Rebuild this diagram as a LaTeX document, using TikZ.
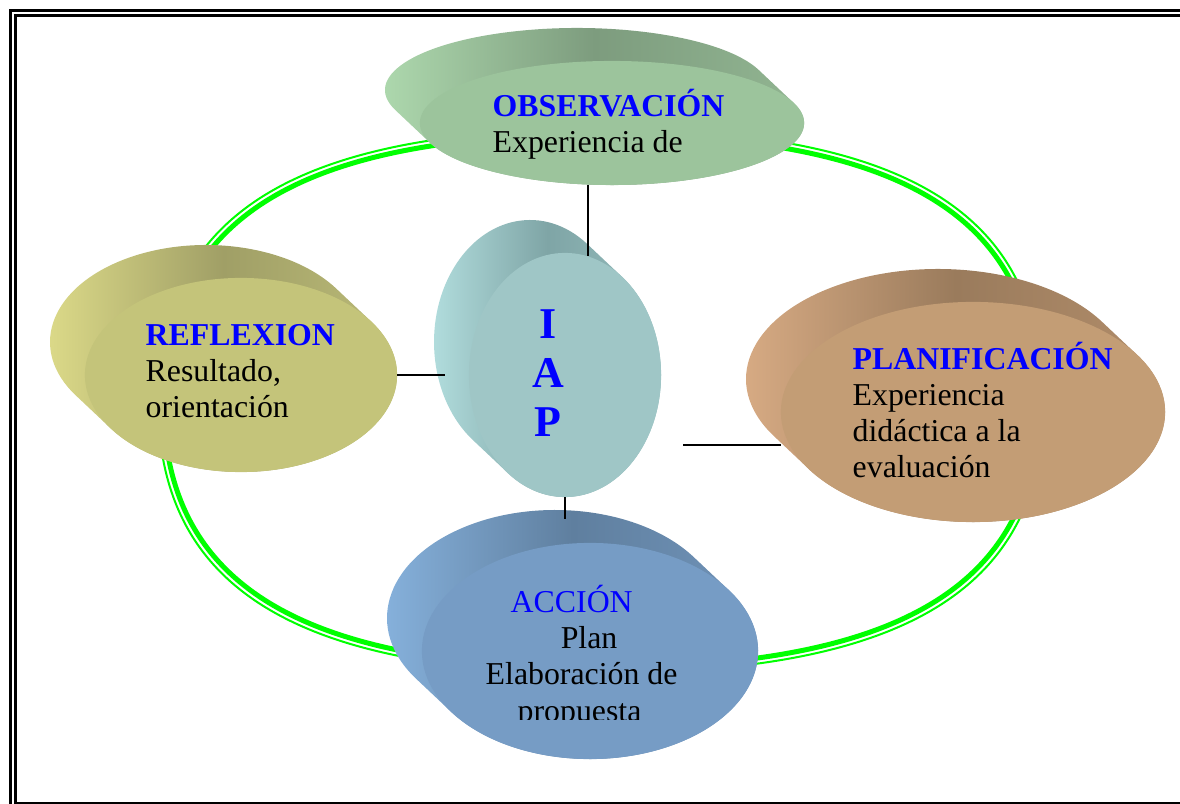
\documentclass[tikz,border=0pt]{standalone}
\usepackage{fontspec}
\setmainfont{Liberation Serif}
\usepackage{xcolor}
\usetikzlibrary{shapes.geometric}

\definecolor{lima}{RGB}{0,255,0}
\definecolor{obsF}{HTML}{9CC49C}
\definecolor{obsL}{HTML}{B2DEB2}
\definecolor{obsD}{HTML}{7D9C7E}
\definecolor{obsM}{HTML}{94B894}
\definecolor{reflF}{HTML}{C4C47A}
\definecolor{reflL}{HTML}{E2E08C}
\definecolor{reflD}{HTML}{A09F66}
\definecolor{reflM}{HTML}{BEBE7A}
\definecolor{planF}{HTML}{C39D75}
\definecolor{planL}{HTML}{DEB088}
\definecolor{planD}{HTML}{9A7B5C}
\definecolor{planM}{HTML}{B48F6C}
\definecolor{accF}{HTML}{769CC5}
\definecolor{accL}{HTML}{8AB6E2}
\definecolor{accD}{HTML}{5F7F9F}
\definecolor{accM}{HTML}{7396BC}
\definecolor{iapF}{HTML}{9FC6C6}
\definecolor{iapL}{HTML}{B6E2E2}
\definecolor{iapD}{HTML}{7FA5A6}
\definecolor{iapM}{HTML}{98C0C0}

% disco: nombre, x, y, radio x, radio y
\newcommand{\disco}[5]{%
  \pgfmathsetmacro{\angD}{180-atan(35*#5/(33*#4))}
  \shade[left color=#1L, right color=#1M, middle color=#1D]
    (#2,#3) ++(\angD:#4 and #5) -- ++(-35,-33)
    arc[start angle=\angD, end angle=\angD+180, x radius=#4, y radius=#5]
    -- ++(35,33)
    arc[start angle=\angD+180, end angle=\angD+360, x radius=#4, y radius=#5]
    -- cycle;
  \node[ellipse, fill=#1F, minimum width=#4*0.02cm, minimum height=#5*0.02cm,
        inner sep=0pt, outer sep=0pt] (#1) at (#2,#3) {};
}
\newcommand{\anillo}[3]{%
  \draw[lima, #3, shift={(601,401)}, xscale=#1, yscale=#2]
    (1,0) .. controls (1,0.688) and (0.688,1) .. (0,1)
    .. controls (-0.688,1) and (-1,0.688) .. (-1,0)
    .. controls (-1,-0.688) and (-0.688,-1) .. (0,-1)
    .. controls (0.688,-1) and (1,-0.688) .. cycle;
}
\newcommand{\tit}[1]{\textcolor{blue}{\textbf{#1}}}

\begin{document}
\begin{tikzpicture}[x=0.01cm, y=-0.01cm]
\tikzstyle{linea} = [black, line width=0.4pt]
\tikzstyle{texto} = [anchor=base west, align=left, inner sep=0pt, font=\fontsize{9.05}{10.3}\selectfont]

\useasboundingbox (0,0) rectangle (1180,804);
\clip (0,0) rectangle (1180,804);

\draw[line width=0.035cm] (10.5,10.5) rectangle (1200,830);
\draw[line width=0.028cm] (15.5,15.5) rectangle (1190,803.5);

\anillo{443}{272}{line width=0.02cm}
\anillo{437.5}{266.5}{line width=0.05cm}

\disco{obs}{612}{123}{192}{62}
\disco{refl}{241}{375}{156}{97}
\disco{plan}{973}{412}{192}{110}
\disco{acc}{590}{651}{168}{108}
\disco{iap}{565}{375}{96}{122}

\coordinate (iapL) at (445,375);
\coordinate (iapR) at (683,445);
\coordinate (planL) at (781,445);
\coordinate (accIn) at (565,519);

\draw[linea] (obs.south -| iap.79) -- (iap.79);
\draw[linea] (refl.east) -- (iapL);
\draw[linea] (iapR) -- (planL);
\draw[linea] (iap.south) -- (accIn);

\node[texto] (obsT) at (492,153) {\tit{OBSERVACIÓN}\\Experiencia de};
\node[texto] (reflT) at (145,418) {\tit{REFLEXION}\\Resultado,\\orientación};
\node[texto] (planT) at (852,478) {\tit{PLANIFICACIÓN}\\Experiencia\\didáctica a la\\evaluación};
\begin{scope}
\clip (400,560) rectangle (760,719);
\node[texto] (accT) at (485,721) {\hspace*{0.25cm}\textcolor{blue}{ACCIÓN}\\\hspace*{0.75cm}Plan\\Elaboración de\\\hspace*{0.32cm}propuesta};
\end{scope}
\node[anchor=base, align=center, inner sep=0pt, text=blue, font=\fontsize{12.5}{14}\selectfont\bfseries] (iapT) at (548,437) {I\\A\\P};

\end{tikzpicture}
\end{document}
